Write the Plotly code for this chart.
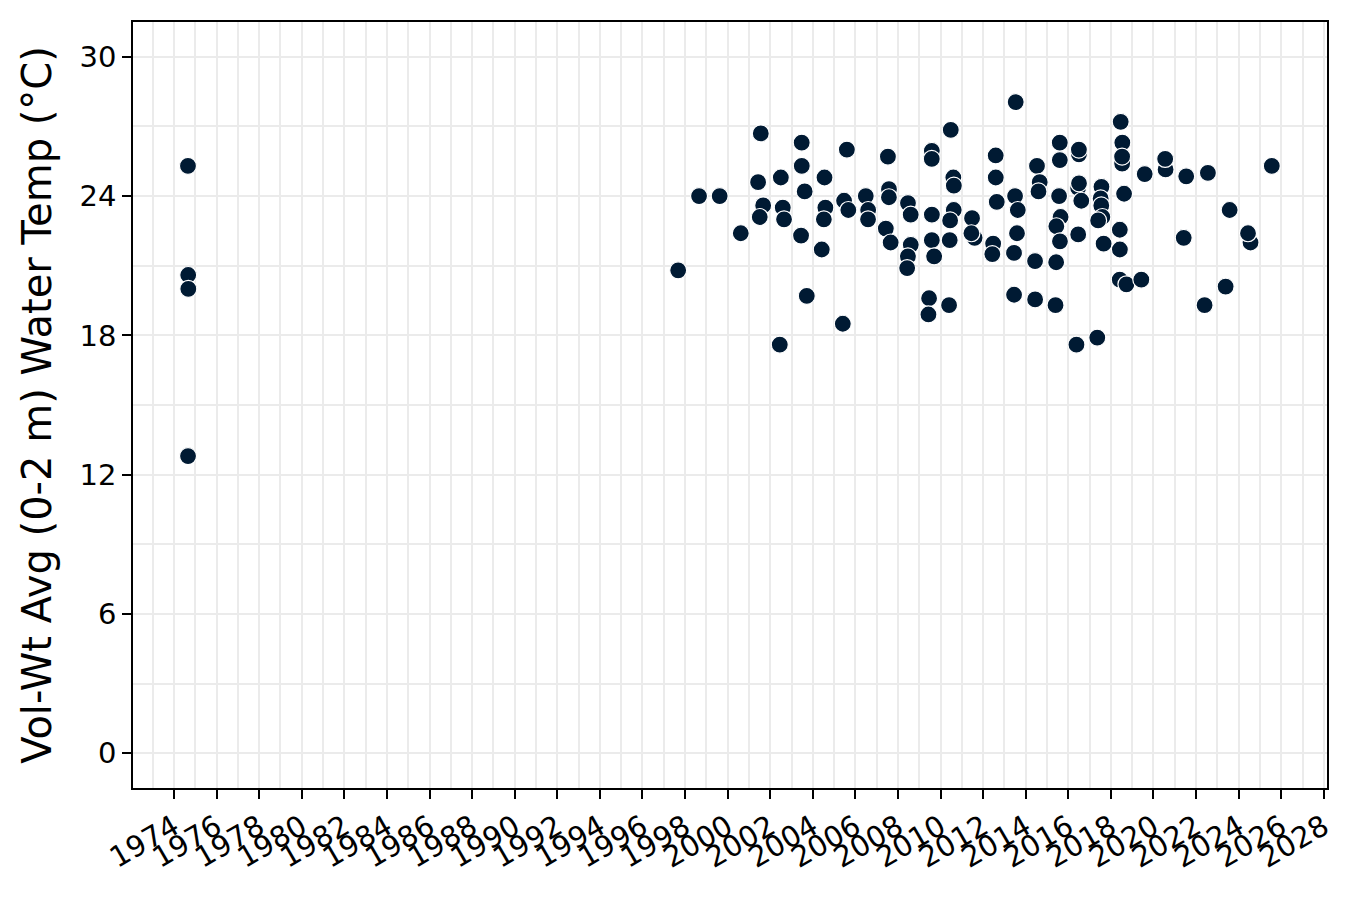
import plotly.graph_objects as go

# fechas de muestreo y temperatura promedio ponderada (0-2 m)
fechas = [
    "1974-08-28", "1974-09-01", "1974-09-03", "1974-08-29",
    "1997-09-05", "1998-08-29", "1999-08-18", "2000-08-14",
    "2001-07-23", "2001-06-07", "2001-09-02", "2001-07-05",
    "2002-07-02", "2002-08-04", "2002-08-26", "2002-06-14",
    "2003-06-25", "2003-06-26", "2003-08-15", "2003-06-14", "2003-09-20",
    "2004-07-20", "2004-08-04", "2004-07-09", "2004-06-03",
    "2005-08-08", "2005-05-30", "2005-06-21", "2005-09-02",
    "2006-06-28", "2006-08-08", "2006-08-06",
    "2007-07-13", "2007-07-31", "2007-07-30", "2007-06-07", "2007-08-29",
    "2008-06-21", "2008-08-07", "2008-08-08", "2008-06-20", "2008-06-07",
    "2009-08-04", "2009-08-03", "2009-08-05", "2009-08-04", "2009-09-13",
    "2009-06-18", "2009-06-07",
    "2010-06-25", "2010-08-08", "2010-08-17", "2010-08-15", "2010-06-14",
    "2010-06-07", "2010-05-27",
    "2011-06-25", "2011-08-08", "2011-06-14",
    "2012-08-04", "2012-08-05", "2012-08-22", "2012-06-21", "2012-06-07",
    "2013-07-02", "2013-08-18", "2013-08-04", "2013-06-14", "2013-06-15",
    "2013-07-13",
    "2014-06-10", "2014-06-11", "2014-07-13", "2014-08-29", "2014-08-08",
    "2015-08-08", "2015-08-09", "2015-07-27", "2015-08-22", "2015-06-10",
    "2015-08-11", "2015-06-07", "2015-05-27",
    "2016-07-02", "2016-07-01", "2016-06-18", "2016-07-03", "2016-08-11",
    "2016-06-19", "2016-05-20",
    "2017-05-12", "2017-07-23", "2017-07-09", "2017-07-20", "2017-08-08",
    "2017-05-27", "2017-08-29",
    "2018-06-18", "2018-07-16", "2018-07-13", "2018-07-12", "2018-08-15",
    "2018-06-03", "2018-06-04", "2018-06-02", "2018-09-24",
    "2019-06-07", "2019-08-04",
    "2020-07-27", "2020-07-20",
    "2021-07-16", "2021-06-03",
    "2022-07-23", "2022-05-27",
    "2023-07-31", "2023-05-23",
    "2024-07-23", "2024-06-10",
    "2025-07-23",
]
temp = [
    25.3, 20.6, 20.0, 12.8,
    20.8, 24.0, 24.0, 22.4,
    26.7, 24.6, 23.6, 23.1,
    24.8, 23.5, 23.0, 17.6,
    26.3, 25.3, 24.2, 22.3, 19.7,
    24.8, 23.5, 23.0, 21.7,
    26.0, 18.5, 23.8, 23.4,
    24.0, 23.4, 23.0,
    25.7, 24.3, 23.95, 22.6, 22.0,
    23.7, 23.2, 21.9, 21.4, 20.9,
    25.95, 25.6, 23.2, 22.1, 21.4,
    19.6, 18.9,
    26.85, 24.8, 24.45, 23.4, 22.95,
    22.1, 19.3,
    23.05, 22.2, 22.4,
    25.75, 24.8, 23.75, 21.95, 21.5,
    24.0, 23.4, 22.4, 21.55, 19.75,
    28.05,
    21.2, 19.55, 25.3, 24.6, 24.2,
    26.3, 25.55, 24.0, 23.1, 22.7,
    22.05, 21.15, 19.3,
    25.8, 26.0, 24.35, 24.55, 23.8,
    22.35, 17.6,
    17.9, 24.4, 23.9, 23.6, 23.1,
    22.95, 21.95,
    27.2, 26.3, 25.4, 25.7, 24.1,
    22.55, 21.7, 20.4, 20.2,
    20.4, 24.95,
    25.15, 25.6,
    24.85, 22.2,
    25.0, 19.3,
    23.4, 20.1,
    22.0, 22.4,
    25.3,
]

FUENTE = "DejaVu Sans"
GRIS = "#EBEBEB"

fig = go.Figure()
fig.add_trace(go.Scatter(
    x=fechas, y=temp, mode="markers", showlegend=False,
    marker=dict(size=17, color="#001a33", line=dict(color="white", width=1.2)),
))

eje = dict(
    showline=True, mirror=True, linecolor="black", linewidth=1.5,
    ticks="outside", ticklen=9, tickwidth=1.5, tickcolor="black",
    showgrid=True, gridcolor=GRIS, gridwidth=1.5, zeroline=False,
    tickfont=dict(family=FUENTE, size=29, color="black"),
    automargin=False,
)

fig.update_xaxes(
    **eje, type="date", range=["1972-01-28", "2028-02-25"],
    tick0="1974-01-01", dtick="M24", tickformat="%Y", tickangle=-30,
    minor=dict(dtick="M12", showgrid=True, gridcolor=GRIS, gridwidth=1.5, ticklen=0),
)
fig.update_yaxes(
    **eje, range=[-1.5, 31.5], tick0=0, dtick=6,
    minor=dict(dtick=3, showgrid=True, gridcolor=GRIS, gridwidth=1.5, ticklen=0),
    title=dict(text="Vol-Wt Avg (0-2 m) Water Temp (°C)",
               font=dict(family=FUENTE, size=40, color="black"), standoff=16),
)

# la página añade 8 px de margen al cuerpo; se compensa aquí
fig.update_layout(
    width=1350, height=900,
    margin=dict(l=125, r=31, t=14, b=120),
    paper_bgcolor="white", plot_bgcolor="white",
    font=dict(family=FUENTE, color="black"),
)

fig.write_html("out.html")
